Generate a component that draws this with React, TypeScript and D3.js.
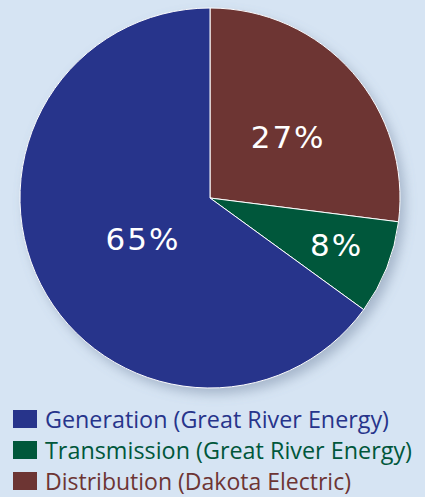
import React, { useEffect, useRef } from "react";
import * as d3 from "d3";

const categories = [
  "Distribution (Dakota Electric)",
  "Transmission (Great River Energy)",
  "Generation (Great River Energy)",
];
const values = [27, 8, 65];
const colors = ["#6d3533", "#00573b", "#27348b"];
const legendOrder = [2, 1, 0];
const legendWidths = [344, 367, 306];

const App: React.FC = () => {
  const ref = useRef<SVGSVGElement>(null);

  useEffect(() => {
    if (!ref.current) return;
    const svg = d3.select(ref.current);
    svg.selectAll("*").remove();

    const width = 425;
    const height = 497;
    const cx = 210;
    const cy = 198;
    const r = 190;

    svg.attr("width", width).attr("height", height);

    svg.append("rect").attr("width", width).attr("height", height).attr("fill", "#d6e4f3");

    const defs = svg.append("defs");
    const filter = defs
      .append("filter")
      .attr("id", "shadow")
      .attr("x", "-20%")
      .attr("y", "-20%")
      .attr("width", "140%")
      .attr("height", "140%");
    filter
      .append("feDropShadow")
      .attr("dx", 5)
      .attr("dy", 6)
      .attr("stdDeviation", 6)
      .attr("flood-color", "#6a7f99")
      .attr("flood-opacity", 0.45);

    const pie = d3
      .pie<number>()
      .sort(null)
      .value((d) => d);
    const arcs = pie(values);
    const arc = d3.arc<d3.PieArcDatum<number>>().innerRadius(0).outerRadius(r);

    const g = svg.append("g").attr("transform", `translate(${cx},${cy})`);

    g.append("circle").attr("r", r).attr("fill", "#27348b").attr("filter", "url(#shadow)");

    g.selectAll("path")
      .data(arcs)
      .enter()
      .append("path")
      .attr("d", arc)
      .attr("fill", (d, i) => colors[i])
      .attr("stroke", "#ffffff")
      .attr("stroke-width", 1)
      .attr("stroke-linejoin", "round");

    // label placement tweaks (radius fraction, nudge)
    const labelRadius = [0.52, 0.7, 0.42];
    const nudge = [
      [4, 4],
      [3, -2],
      [4, 5],
    ];
    g.selectAll("text.pct")
      .data(arcs)
      .enter()
      .append("text")
      .attr("class", "pct")
      .attr("transform", (d, i) => {
        const c = d3
          .arc<d3.PieArcDatum<number>>()
          .innerRadius(r * labelRadius[i])
          .outerRadius(r * labelRadius[i])
          .centroid(d);
        return `translate(${c[0] + nudge[i][0]},${c[1] + nudge[i][1]})`;
      })
      .attr("text-anchor", "middle")
      .attr("dominant-baseline", "central")
      .attr("fill", "#ffffff")
      .attr("font-family", "'DejaVu Sans', sans-serif")
      .attr("font-size", 31)
      .attr("letter-spacing", 2)
      .text((d) => `${d.data}%`);

    const legend = svg.append("g");
    const rowY = d3.scaleLinear().domain([0, 2]).range([419, 481]);
    legendOrder.forEach((idx, row) => {
      const y = rowY(row);
      legend
        .append("rect")
        .attr("x", 13)
        .attr("y", y - 9)
        .attr("width", 24)
        .attr("height", 18)
        .attr("fill", colors[idx]);
      legend
        .append("text")
        .attr("x", 45)
        .attr("y", y)
        .attr("dominant-baseline", "central")
        .attr("fill", colors[idx])
        .attr("font-family", "'Open Sans', sans-serif")
        .attr("font-size", 23)
        .attr("textLength", legendWidths[row])
        .attr("lengthAdjust", "spacingAndGlyphs")
        .text(categories[idx]);
    });
  }, []);

  return (
    <div style={{ position: "absolute", left: 0, top: 0 }}>
      <svg ref={ref} style={{ display: "block" }} />
    </div>
  );
};

export default App;
